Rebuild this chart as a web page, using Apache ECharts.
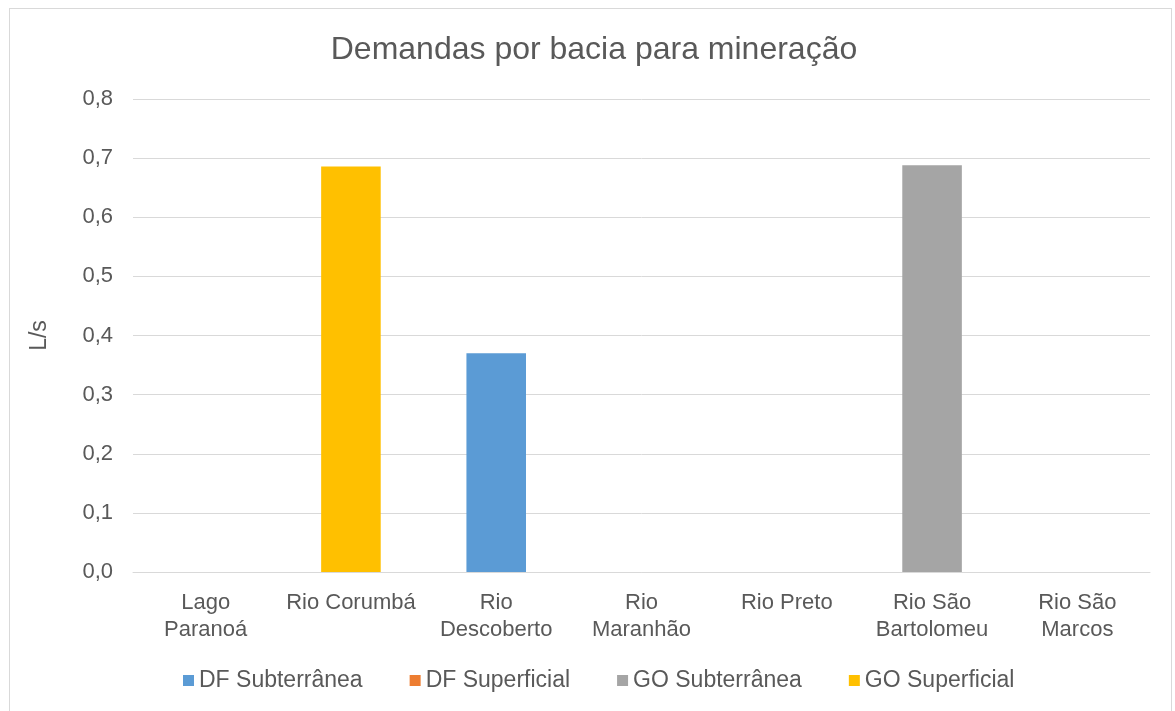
<!DOCTYPE html>
<html>
<head>
<meta charset="utf-8">
<script src="https://cdn.jsdelivr.net/npm/echarts@6/dist/echarts.min.js"></script>
<style>
  html, body { margin: 0; padding: 0; background: #fff; }
  #frame { position: absolute; left: 9px; top: 8px; width: 1163px; height: 720px; border: 1px solid #d9d9d9; box-sizing: border-box; }
  #chart { position: absolute; left: 0; top: 0; width: 1175px; height: 711px; }
</style>
</head>
<body>
<div id="frame"></div>
<div id="chart"></div>
<script>
const categories = ['Lago\nParanoá', 'Rio Corumbá', 'Rio\nDescoberto', 'Rio\nMaranhão', 'Rio Preto', 'Rio São\nBartolomeu', 'Rio São\nMarcos'];
const seriesNames = ['DF Subterrânea', 'DF Superficial', 'GO Subterrânea', 'GO Superficial'];
const seriesColors = ['#5b9bd5', '#ed7d31', '#a5a5a5', '#ffc000'];
const dfSubterranea = [null, null, 0.370, null, null, null, null];
const dfSuperficial = [null, null, null, null, null, null, null];
const goSubterranea = [null, null, null, null, null, 0.688, null];
const goSuperficial = [null, 0.686, null, null, null, null, null];
const yTicks = [0, 0.8, 0.1];

const chart = echarts.init(document.getElementById('chart'));
const font = 'Arial, "Liberation Sans", sans-serif';
const data = [dfSubterranea, dfSuperficial, goSubterranea, goSuperficial];

chart.setOption({
  animation: false,
  title: {
    text: 'Demandas por bacia para mineração',
    left: 589, top: 29, textAlign: 'center',
    textStyle: { color: '#595959', fontSize: 32, fontWeight: 'normal', fontFamily: font }
  },
  legend: {
    bottom: 14, left: 178, itemGap: 47, itemWidth: 11, itemHeight: 11,
    icon: 'rect',
    data: seriesNames,
    textStyle: { color: '#595959', fontSize: 23, fontFamily: font }
  },
  grid: { left: 133, right: 25, top: 99, bottom: 139 },
  xAxis: {
    type: 'category',
    data: categories,
    axisTick: { show: false },
    axisLine: { lineStyle: { color: '#d9d9d9', width: 1 } },
    axisLabel: { color: '#595959', fontSize: 22, fontFamily: font, lineHeight: 27, margin: 17, interval: 0 }
  },
  yAxis: {
    type: 'value',
    min: yTicks[0], max: yTicks[1], interval: yTicks[2],
    name: 'L/s', nameLocation: 'middle', nameGap: 82, nameRotate: 90,
    nameTextStyle: { color: '#595959', fontSize: 23, fontFamily: font },
    axisLine: { show: false },
    axisTick: { show: false },
    axisLabel: { color: '#595959', fontSize: 22, fontFamily: font, margin: 20,
      formatter: v => v.toFixed(1).replace('.', ',') },
    splitLine: { lineStyle: { color: '#d9d9d9', width: 1 } }
  },
  series: seriesNames.map((name, i) => ({
    name,
    type: 'bar',
    stack: 'total',
    barWidth: '41%',
    data: data[i],
    itemStyle: { color: seriesColors[i] }
  }))
});
</script>
</body>
</html>
